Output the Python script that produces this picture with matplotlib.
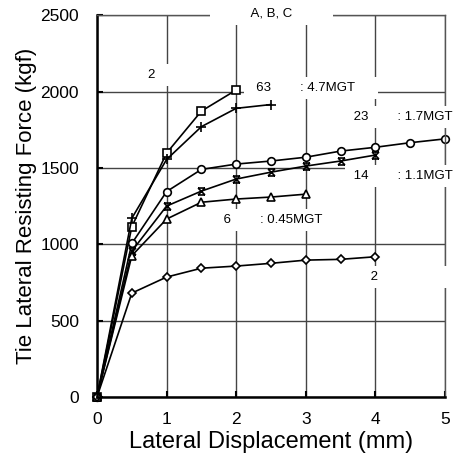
import numpy as np
import matplotlib
matplotlib.use('Agg')
import matplotlib.pyplot as plt
from matplotlib.path import Path

plt.rcParams['font.family'] = ['Liberation Sans', 'DejaVu Sans']

# displacement (mm) and tie lateral resisting force (kgf) for each track load
x_sq = [0, 0.5, 1, 1.5, 2]
y_sq = [0, 1115, 1597, 1872, 2010]

x_plus = [0, 0.5, 1, 1.5, 2, 2.5]
y_plus = [0, 1170, 1555, 1770, 1890, 1915]

x_circ = [0, 0.5, 1, 1.5, 2, 2.5, 3, 3.5, 4, 4.5, 5]
y_circ = [0, 1005, 1345, 1490, 1525, 1545, 1570, 1610, 1635, 1665, 1690]

x_star = [0, 0.5, 1, 1.5, 2, 2.5, 3, 3.5, 4]
y_star = [0, 955, 1250, 1348, 1427, 1472, 1512, 1545, 1584]

x_tri = [0, 0.5, 1, 1.5, 2, 2.5, 3]
y_tri = [0, 925, 1165, 1275, 1296, 1309, 1328]

x_dia = [0, 0.5, 1, 1.5, 2, 2.5, 3, 3.5, 4]
y_dia = [0, 680, 785, 843, 857, 875, 896, 901, 918]

xticks = [0, 1, 2, 3, 4, 5]
yticks = [0, 500, 1000, 1500, 2000, 2500]

# X with bars on top and bottom
star = Path([(-1, -1), (1, 1), (-1, 1), (1, -1), (-1, 1), (1, 1), (-1, -1), (1, -1)],
            [Path.MOVETO, Path.LINETO] * 4)

fig = plt.figure(figsize=(4.62, 4.61), dpi=100)
ax = fig.add_axes([0.21, 0.139, 0.753, 0.828])

ax.set_xlim(0, 5)
ax.set_ylim(0, 2500)
ax.set_xticks(xticks)
ax.set_yticks(yticks)
ax.grid(True, color='#444444', lw=1.0)
ax.set_axisbelow(True)

for s in ['left', 'bottom']:
    ax.spines[s].set_linewidth(1.8)
for s in ['top', 'right']:
    ax.spines[s].set_linewidth(1.0)
    ax.spines[s].set_color('#555555')

ax.tick_params(direction='in', length=4, width=1.5, labelsize=12.5)
ax.tick_params(axis='y', pad=13)
ax.tick_params(axis='x', pad=11)

style = dict(color='black', lw=1.2, mec='black', mew=1.2, clip_on=False)
ax.plot(x_sq, y_sq, marker='s', ms=5.5, mfc='white', **style)
ax.plot(x_plus, y_plus, marker='+', ms=7, **style)
ax.plot(x_circ, y_circ, marker='o', ms=5.5, mfc='white', **style)
ax.plot(x_star, y_star, marker=star, ms=5, mfc='none', **style)
ax.plot(x_tri, y_tri, marker='^', ms=5.5, mfc='white', **style)
ax.plot(x_dia, y_dia, marker='D', ms=4.5, mfc='white', **style)

ax.set_xlabel('Lateral Displacement (mm)', fontsize=17, labelpad=3)
ax.set_ylabel('Tie Lateral Resisting Force (kgf)', fontsize=16, labelpad=2)

box = dict(boxstyle='square,pad=0.38', fc='white', ec='none')
lab = dict(fontsize=9.5, va='center', bbox=box, zorder=5)
ax.text(2.51, 2510, '          A, B, C          ', ha='center', **lab)
ax.text(0.73, 2107, '2                  ', ha='left', **lab)
ax.text(2.19, 2022, '  63        : 4.7MGT     ', ha='left', **lab)
ax.text(3.635, 1832, ' 23        : 1.7MGT', ha='left', **lab)
ax.text(3.635, 1446, ' 14        : 1.1MGT', ha='left', **lab)
ax.text(1.77, 1158, ' 6        : 0.45MGT  ', ha='left', **lab)
ax.text(3.88, 785, ' 2                  ', ha='left', **lab)

fig.savefig('out.png', dpi=100)
